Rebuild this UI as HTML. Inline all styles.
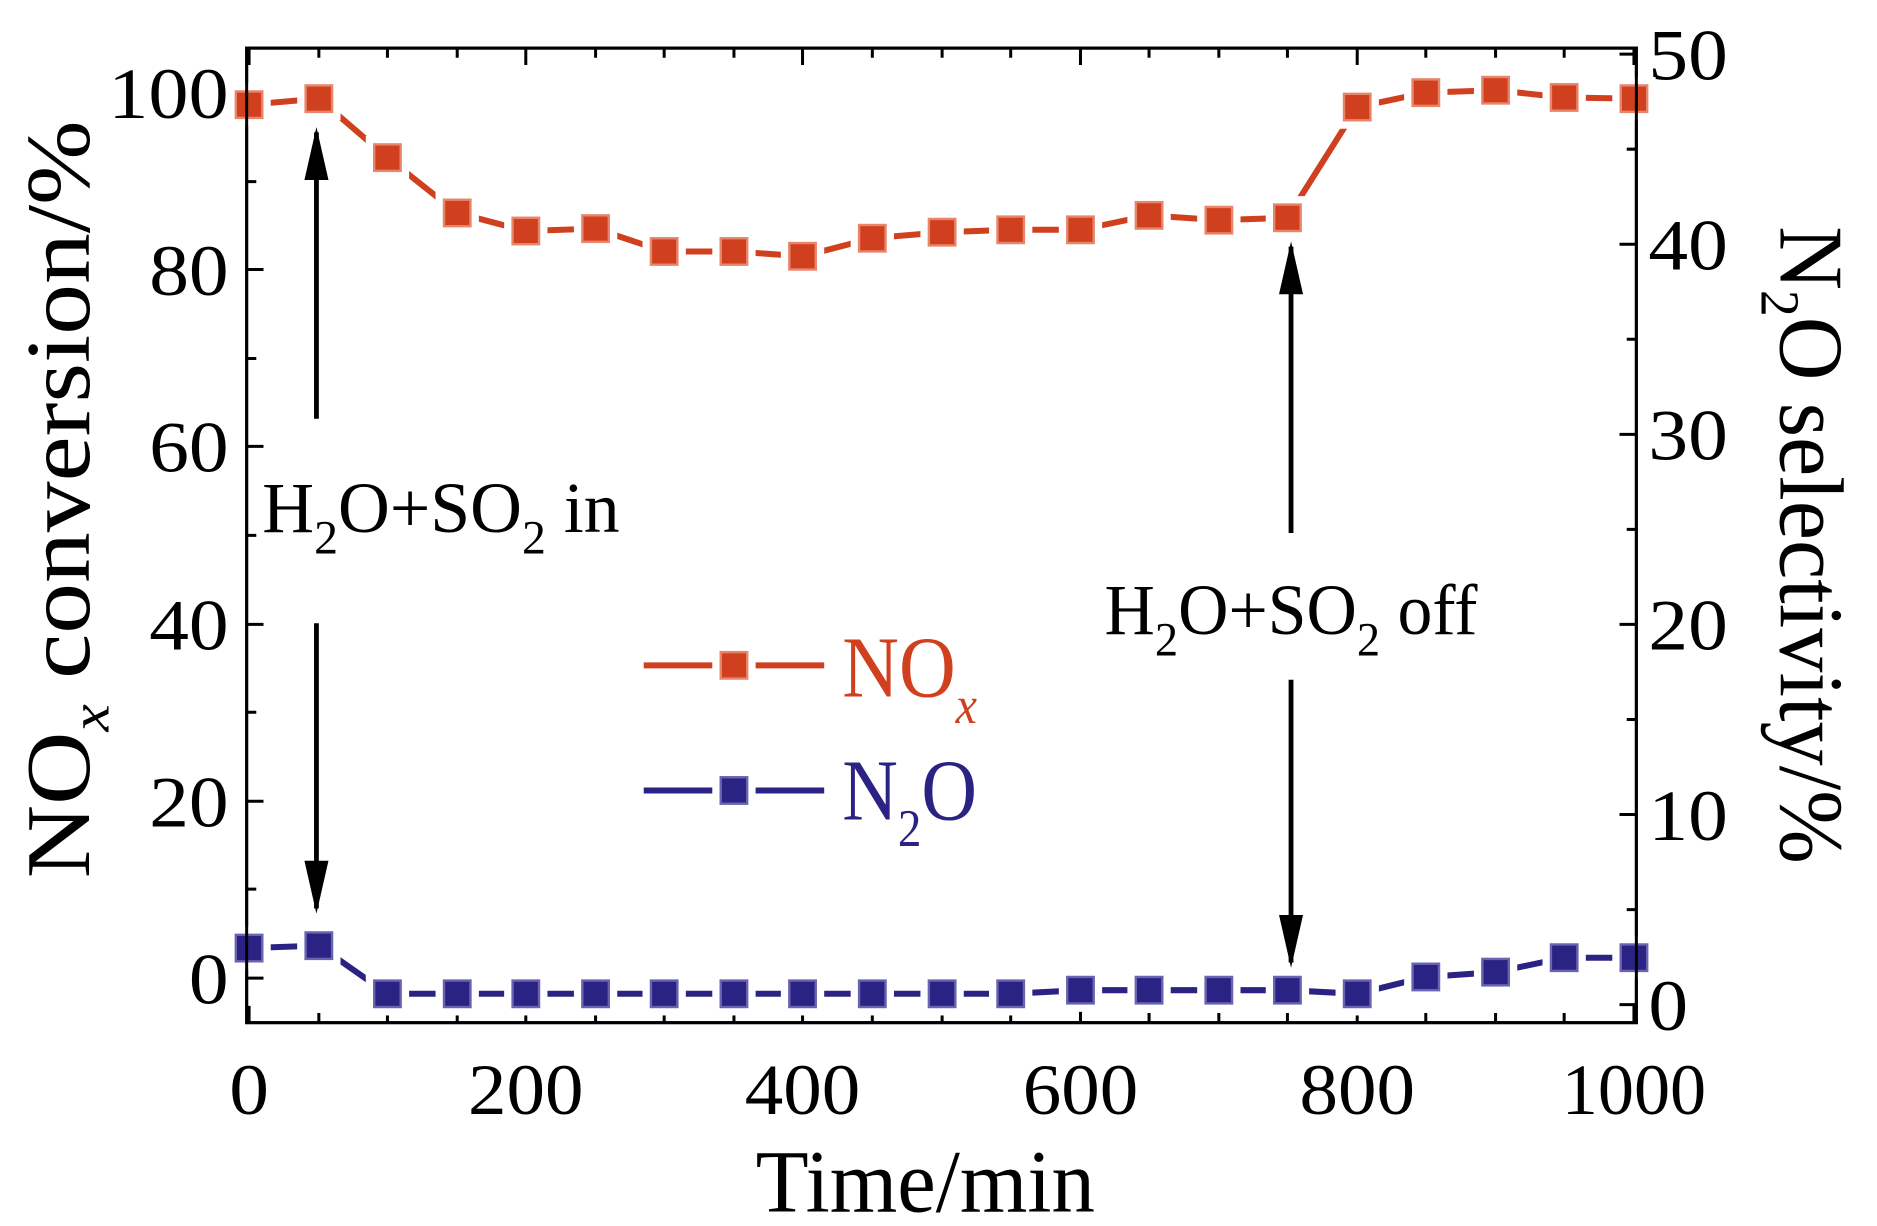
<!DOCTYPE html>
<html><head><style>html,body{margin:0;padding:0;background:#fff;overflow:hidden}svg{display:block}</style></head>
<body>
<svg width="1877" height="1226" viewBox="0 0 1560 1019" preserveAspectRatio="none" xmlns="http://www.w3.org/2000/svg" font-family="Liberation Serif, serif">
<defs>
<marker id="ah" viewBox="0 0 10 10" refX="9" refY="5" markerWidth="11" markerHeight="5" orient="auto" markerUnits="strokeWidth" preserveAspectRatio="none"><path d="M0,0 L10,5 L0,10 z" fill="#000"/></marker>
<g id="mo"><rect x="-18" y="-18" width="36" height="36" fill="#fff"/><rect x="-11" y="-11" width="22" height="22" fill="#d0401e" stroke="#e8866c" stroke-width="2"/></g>
<g id="mb"><rect x="-18" y="-18" width="36" height="36" fill="#fff"/><rect x="-11" y="-11" width="22" height="22" fill="#2a2383" stroke="#6a64b0" stroke-width="2"/></g>
</defs>
<rect x="205" y="40" width="1155" height="810" fill="none" stroke="#000" stroke-width="2.5"/>
<path stroke="#000" stroke-width="2.5" fill="none" d="
M207,850v-14M265,850v-8M322,850v-8M380,850v-8M437,850v-14M495,850v-8M552,850v-8M610,850v-8M667,850v-14M725,850v-8M783,850v-8M840,850v-8M898,850v-14M955,850v-8M1013,850v-8M1070,850v-8M1128,850v-14M1185,850v-8M1243,850v-8M1300,850v-8M1358,850v-14
M207,40v14M265,40v8M322,40v8M380,40v8M437,40v14M495,40v8M552,40v8M610,40v8M667,40v14M725,40v8M783,40v8M840,40v8M898,40v14M955,40v8M1013,40v8M1070,40v8M1128,40v14M1185,40v8M1243,40v8M1300,40v8M1358,40v14
M205,813h14M205,739h8M205,666h14M205,592h8M205,519h14M205,445h8M205,371h14M205,298h8M205,224h14M205,151h8M205,77h14
M1360,835h-14M1360,756h-8M1360,677h-14M1360,598h-8M1360,519h-14M1360,440h-8M1360,361h-14M1360,282h-8M1360,203h-14M1360,124h-8M1360,45h-14"/>
<g font-size="60" fill="#000">
<text x="190" y="98" text-anchor="end" textLength="100" lengthAdjust="spacingAndGlyphs">100</text>
<text x="190" y="245" text-anchor="end" textLength="66" lengthAdjust="spacingAndGlyphs">80</text>
<text x="190" y="392" text-anchor="end" textLength="66" lengthAdjust="spacingAndGlyphs">60</text>
<text x="190" y="540" text-anchor="end" textLength="66" lengthAdjust="spacingAndGlyphs">40</text>
<text x="190" y="687" text-anchor="end" textLength="66" lengthAdjust="spacingAndGlyphs">20</text>
<text x="190" y="834" text-anchor="end" textLength="33" lengthAdjust="spacingAndGlyphs">0</text>
<text x="1370" y="66" textLength="66" lengthAdjust="spacingAndGlyphs">50</text>
<text x="1370" y="224" textLength="66" lengthAdjust="spacingAndGlyphs">40</text>
<text x="1370" y="382" textLength="66" lengthAdjust="spacingAndGlyphs">30</text>
<text x="1370" y="540" textLength="66" lengthAdjust="spacingAndGlyphs">20</text>
<text x="1370" y="698" textLength="66" lengthAdjust="spacingAndGlyphs">10</text>
<text x="1370" y="856" textLength="33" lengthAdjust="spacingAndGlyphs">0</text>
<text x="207" y="926" text-anchor="middle" textLength="33" lengthAdjust="spacingAndGlyphs">0</text>
<text x="437" y="926" text-anchor="middle" textLength="96" lengthAdjust="spacingAndGlyphs">200</text>
<text x="667" y="926" text-anchor="middle" textLength="96" lengthAdjust="spacingAndGlyphs">400</text>
<text x="898" y="926" text-anchor="middle" textLength="96" lengthAdjust="spacingAndGlyphs">600</text>
<text x="1128" y="926" text-anchor="middle" textLength="96" lengthAdjust="spacingAndGlyphs">800</text>
<text x="1358" y="926" text-anchor="middle" textLength="120" lengthAdjust="spacingAndGlyphs">1000</text>
</g>
<text x="628" y="1007" font-size="74" textLength="282" lengthAdjust="spacingAndGlyphs">Time/min</text>
<text transform="translate(74,730) rotate(-90)" font-size="76" textLength="630" lengthAdjust="spacingAndGlyphs">NO<tspan font-size="46" font-style="italic" dy="16">x</tspan><tspan dy="-16"> conversion/%</tspan></text>
<text transform="translate(1480,188) rotate(90)" font-size="76" textLength="530" lengthAdjust="spacingAndGlyphs">N<tspan font-size="46" dy="16">2</tspan><tspan dy="-16">O selectivity/%</tspan></text>
<path fill="none" stroke="#d0401e" stroke-width="5" d="M207,87L265,82L322,131L380,177L437,192L495,190L552,209L610,209L667,213L725,198L783,193L840,191L898,191L955,179L1013,183L1070,181L1128,89L1185,77L1243,75L1300,81L1358,82"/>
<path fill="none" stroke="#2a2383" stroke-width="5" d="M207,788L265,786L322,826L380,826L437,826L495,826L552,826L610,826L667,826L725,826L783,826L840,826L898,823L955,823L1013,823L1070,823L1128,826L1185,812L1243,808L1300,796L1358,796"/>
<use href="#mo" x="207" y="87"/><use href="#mo" x="265" y="82"/><use href="#mo" x="322" y="131"/><use href="#mo" x="380" y="177"/><use href="#mo" x="437" y="192"/><use href="#mo" x="495" y="190"/><use href="#mo" x="552" y="209"/><use href="#mo" x="610" y="209"/><use href="#mo" x="667" y="213"/><use href="#mo" x="725" y="198"/><use href="#mo" x="783" y="193"/><use href="#mo" x="840" y="191"/><use href="#mo" x="898" y="191"/><use href="#mo" x="955" y="179"/><use href="#mo" x="1013" y="183"/><use href="#mo" x="1070" y="181"/><use href="#mo" x="1128" y="89"/><use href="#mo" x="1185" y="77"/><use href="#mo" x="1243" y="75"/><use href="#mo" x="1300" y="81"/><use href="#mo" x="1358" y="82"/>
<use href="#mb" x="207" y="788"/><use href="#mb" x="265" y="786"/><use href="#mb" x="322" y="826"/><use href="#mb" x="380" y="826"/><use href="#mb" x="437" y="826"/><use href="#mb" x="495" y="826"/><use href="#mb" x="552" y="826"/><use href="#mb" x="610" y="826"/><use href="#mb" x="667" y="826"/><use href="#mb" x="725" y="826"/><use href="#mb" x="783" y="826"/><use href="#mb" x="840" y="826"/><use href="#mb" x="898" y="823"/><use href="#mb" x="955" y="823"/><use href="#mb" x="1013" y="823"/><use href="#mb" x="1070" y="823"/><use href="#mb" x="1128" y="826"/><use href="#mb" x="1185" y="812"/><use href="#mb" x="1243" y="808"/><use href="#mb" x="1300" y="796"/><use href="#mb" x="1358" y="796"/>
<rect x="205" y="40" width="1155" height="810" fill="none" stroke="#000" stroke-width="2.5"/>
<g stroke="#000" stroke-width="4" marker-end="url(#ah)">
<line x1="263" y1="348" x2="263" y2="110"/>
<line x1="263" y1="518" x2="263" y2="755"/>
<line x1="1073" y1="443" x2="1073" y2="205"/>
<line x1="1073" y1="565" x2="1073" y2="800"/>
</g>
<text x="218" y="442" font-size="60" textLength="297" lengthAdjust="spacingAndGlyphs">H<tspan font-size="40" dy="18">2</tspan><tspan dy="-18">O+SO</tspan><tspan font-size="40" dy="18">2</tspan><tspan dy="-18">  in</tspan></text>
<text x="918" y="527" font-size="60" textLength="310" lengthAdjust="spacingAndGlyphs">H<tspan font-size="40" dy="18">2</tspan><tspan dy="-18">O+SO</tspan><tspan font-size="40" dy="18">2</tspan><tspan dy="-18"> off</tspan></text>
<g stroke-width="5"><line x1="535" y1="553" x2="685" y2="553" stroke="#d0401e"/><line x1="535" y1="657" x2="685" y2="657" stroke="#2a2383"/></g>
<use href="#mo" x="610" y="553"/><use href="#mb" x="610" y="657"/>
<text x="700" y="579" font-size="72" fill="#d0401e" textLength="112" lengthAdjust="spacingAndGlyphs">NO<tspan font-size="44" font-style="italic" dy="22">x</tspan></text>
<text x="700" y="681" font-size="72" fill="#2a2383" textLength="112" lengthAdjust="spacingAndGlyphs">N<tspan font-size="44" dy="22">2</tspan><tspan dy="-22">O</tspan></text>
</svg>
</body></html>
